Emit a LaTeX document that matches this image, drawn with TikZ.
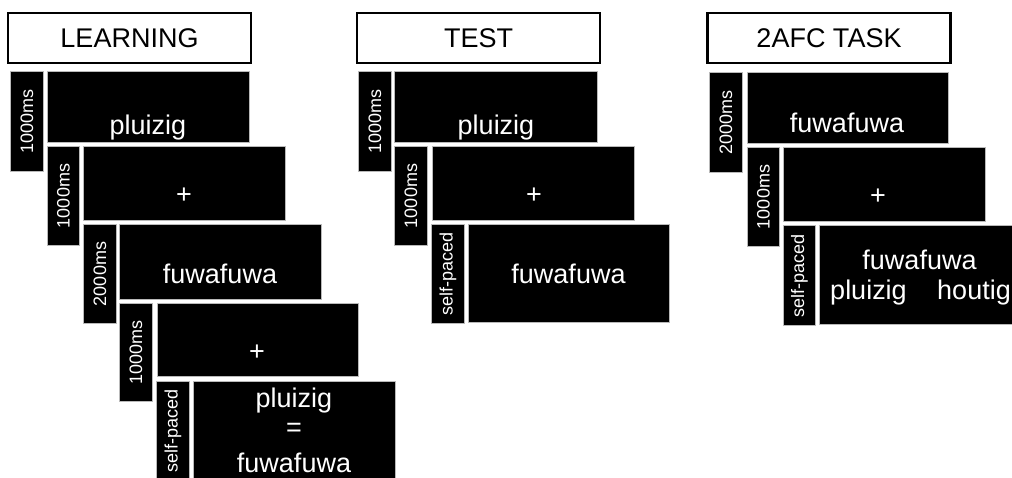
\documentclass[tikz,border=0pt]{standalone}
\usepackage{fontspec}
\setmainfont{Liberation Sans}
\begin{document}
\begin{tikzpicture}[x=1pt,y=-1pt,
  heading/.style={draw=black, line width=2.5pt, fill=white, inner sep=0pt,
    minimum width=243pt, minimum height=50pt, font=\fontsize{27}{32}\selectfont},
  screen/.style={fill=black, draw=gray!55, line width=1pt, inner sep=0pt},
  timing/.style={fill=black, draw=gray!55, line width=1pt, inner sep=0pt,
    rotate=90, text=white, font=\fontsize{18}{21}\selectfont},
  word/.style={text=white, inner sep=0pt, anchor=base, font=\fontsize{27}{32}\selectfont},
  sign/.style={text=white, inner sep=0pt, anchor=center, font=\fontsize{27}{32}\selectfont}]
\useasboundingbox (0,0) rectangle (1012,477);
\clip (0,0) rectangle (1012,477);

% ---------------- learning phase ----------------
\node[heading] (L-head) at (129.5,38) {LEARNING};

\node[timing, minimum width=100pt, minimum height=33pt] (L-t1) at (27,121.5) {1000ms};
\node[screen, minimum width=202pt, minimum height=71pt] (L-s1) at (148.5,107) {};
\node[word] (L-w1) at (148,134) {pluizig};

\node[timing, minimum width=99pt, minimum height=32pt] (L-t2) at (63.5,196) {1000ms};
\node[screen, minimum width=202pt, minimum height=74pt] (L-s2) at (184.5,183.5) {};
\node[sign] (L-p2) at (184,196) {+};

\node[timing, minimum width=99pt, minimum height=33pt] (L-t3) at (100,274) {2000ms};
\node[screen, minimum width=202pt, minimum height=75pt] (L-s3) at (220.5,262) {};
\node[word] (L-w3) at (220,283) {fuwafuwa};

\node[timing, minimum width=98pt, minimum height=33pt] (L-t4) at (136,352.5) {1000ms};
\node[screen, minimum width=201pt, minimum height=73pt] (L-s4) at (258,340) {};
\node[sign] (L-p4) at (257,353) {+};

\node[timing, minimum width=99pt, minimum height=33pt] (L-t5) at (173,431) {self-paced};
\node[screen, minimum width=202pt, minimum height=99pt] (L-s5) at (294.5,431) {};
\node[word] (L-w5a) at (294,407) {pluizig};
\node[sign] (L-eq) at (294,430) {=};
\node[word] (L-w5b) at (294,472) {fuwafuwa};

% ---------------- test phase ----------------
\node[heading] (T-head) at (478.5,38) {TEST};

\node[timing, minimum width=100pt, minimum height=33pt] (T-t1) at (375,121.5) {1000ms};
\node[screen, minimum width=203pt, minimum height=71pt] (T-s1) at (496,107) {};
\node[word] (T-w1) at (496,134) {pluizig};

\node[timing, minimum width=99pt, minimum height=33pt] (T-t2) at (411,196) {1000ms};
\node[screen, minimum width=202pt, minimum height=74pt] (T-s2) at (533.5,183.5) {};
\node[sign] (T-p2) at (534,196) {+};

\node[timing, minimum width=99pt, minimum height=33pt] (T-t3) at (448,274) {self-paced};
\node[screen, minimum width=201pt, minimum height=98pt] (T-s3) at (569,273.5) {};
\node[word] (T-w3) at (568.5,283) {fuwafuwa};

% ---------------- two-alternative forced choice ----------------
\node[heading] (A-head) at (829,38) {2AFC TASK};

\node[timing, minimum width=100pt, minimum height=33pt] (A-t1) at (726,122.5) {2000ms};
\node[screen, minimum width=201pt, minimum height=71pt] (A-s1) at (848,108) {};
\node[word] (A-w1) at (847,132) {fuwafuwa};

\node[timing, minimum width=99pt, minimum height=32pt] (A-t2) at (763.5,197) {1000ms};
\node[screen, minimum width=202pt, minimum height=74pt] (A-s2) at (884.5,184.5) {};
\node[sign] (A-p2) at (878,197) {+};

\node[timing, minimum width=100pt, minimum height=32pt] (A-t3) at (799.5,275.5) {self-paced};
\node[screen, minimum width=202pt, minimum height=99pt] (A-s3) at (920.5,275) {};
\node[word] (A-w3) at (919.5,269) {fuwafuwa};
\node[word] (A-c1) at (868.5,299) {pluizig};
\node[word] (A-c2) at (974,299) {houtig};
\end{tikzpicture}
\end{document}
